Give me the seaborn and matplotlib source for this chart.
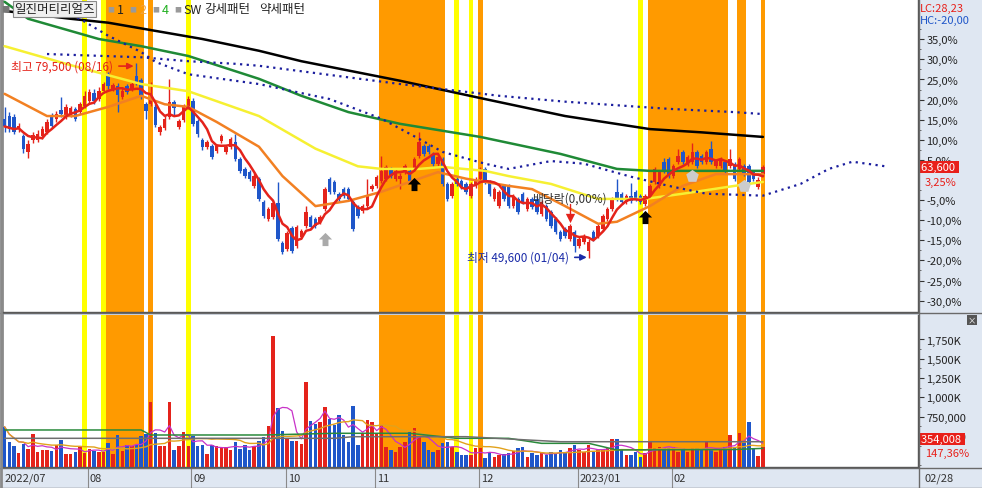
import numpy as np
import pandas as pd
import matplotlib
matplotlib.use("Agg")
import matplotlib.pyplot as plt
import matplotlib.transforms as mtransforms
from matplotlib.path import Path
from matplotlib.lines import Line2D
import seaborn as sns

sns.set_theme(style="white")
plt.rcParams["font.family"] = ["Noto Sans CJK KR", "DejaVu Sans"]
plt.rcParams["axes.unicode_minus"] = False

# ---------------- data ----------------
opens = [71000,71400,71200,69400,68300,65900,67800,67700,68300,69000,71400,70900,72400,71400,71500,72500,72000,72900,73700,75000,
         74000,75300,77800,75500,76000,74300,76000,75500,77600,76900,73200,73300,72800,68900,69600,71200,73500,69700,70800,72900,
         73700,70600,67800,66600,66800,66000,67500,65900,66600,67400,64800,63300,62800,60700,61800,58200,55600,55900,58000,52000,
         51000,54300,51500,52800,54600,55900,55600,55200,57200,61800,61300,59500,60200,60200,58200,57500,56900,57600,60200,60700,
         61500,61800,63300,61800,61800,62800,63000,63300,65300,66800,66800,65600,64100,64800,61000,59100,61800,61500,61000,59100,
         60700,61800,63300,61300,58700,57600,60700,60700,57600,58700,59500,57200,58700,58700,56400,57600,56700,55600,53600,54100,
         52600,53600,51500,52100,50700,53600,53000,54100,55600,57200,59800,59500,58200,59200,59800,59200,57900,59200,61300,60700,
         64400,64800,62200,64400,65900,64100,64400,65900,65300,64400,66300,63700,63700,64400,63700,64100,63300,63700,63700,62800,
         60500,62500]
highs = [72800,72000,71700,70300,68700,67800,69000,69200,69900,71000,71900,72100,74300,73200,73000,72800,73600,75200,75600,75500,
         75800,76600,78100,76500,76400,75700,76300,76700,79500,77300,73600,76600,73200,70000,71400,77000,73800,71000,73300,74500,
         74100,71000,68100,67700,67100,67100,68600,67000,68200,68700,65100,63600,63100,62600,62100,58500,57500,58400,61300,52300,
         53800,54600,54700,54100,57600,56200,55900,56200,60500,62100,61600,59800,60500,60500,58500,57800,57900,61700,61000,62400,
         65300,63900,63600,63300,62600,64000,63300,65100,68900,67100,67100,65900,65400,65100,61300,61300,62100,61800,61300,61300,
         62100,63600,63600,61600,60500,60100,61000,61000,59500,59000,59800,59000,59000,59000,58500,57900,57000,55900,53900,54400,
         54900,53900,52900,53300,52600,53900,54900,56400,57500,59000,61700,59800,59500,61200,60100,59500,59500,61000,63600,63100,
         65000,65100,64000,66300,66200,65400,67300,66200,65600,66200,67600,64800,65100,64700,66300,64400,65100,64000,64000,63100,
         62000,63900]
lows = [69000,68900,68600,69000,65800,65000,67300,67400,67900,68600,69600,70500,71300,71000,71300,70600,71700,72600,73400,73300,
        73700,75000,75600,75200,72000,74000,74800,75200,76200,74000,71000,72900,69700,68500,69300,70900,71500,69400,70500,72500,
        69900,68200,66200,66300,64800,65700,67200,65600,66300,64500,62700,61900,61400,60400,58400,55800,55300,55600,52200,50200,
        50700,50400,51200,52500,54300,54100,54300,54900,56900,59500,59500,58400,58900,58400,53800,55800,56600,57300,59900,60400,
        61200,61500,61900,61500,60200,62500,61200,63000,65000,65300,65600,63800,63800,60700,58400,58800,60700,60200,59500,58800,
        60400,61500,61000,59200,58400,57300,58400,57300,57300,56400,57900,56900,57200,56400,56100,55300,54300,53300,52300,52700,
        52300,50600,51200,51800,49600,52300,52700,53800,55300,56900,58400,57900,57900,58100,58400,57900,57600,58900,61000,60400,
        62700,61900,61900,64100,64100,63800,64100,63400,64100,64100,64100,63400,63400,62700,63400,61500,63000,62200,61000,61500,
        60200,62200]
closes = [69800,69400,69000,69900,66300,67100,68500,68700,69400,70500,69900,71700,71700,72800,72700,70900,73200,74400,75100,73700,
          75200,76300,76000,76100,74600,75300,75100,76300,76600,74400,72200,74200,70000,69700,71000,73500,72700,70600,72900,74000,
          70200,68600,66600,67400,65100,66800,68300,66700,67900,64800,63000,62200,61800,62200,58700,56100,57200,58000,52600,50600,
          53500,50700,54400,53800,56700,54400,54600,55900,60200,59800,59800,58700,59200,58700,54100,56100,57600,59200,60700,62100,
          63000,63600,62200,63000,62200,63700,61500,64800,67400,65600,65900,64100,65100,61000,58700,61000,61000,60500,59800,61000,
          61800,63300,61300,59500,60200,59800,58700,57600,59200,56700,58200,58700,57500,56700,58200,55600,54600,53600,52600,53000,
          54600,51500,52600,53000,52100,52600,54600,56100,57200,58700,58700,58200,59200,58400,58700,58200,59200,60700,63300,62800,
          63000,62200,63700,65300,64400,65100,65900,63700,64400,65900,64400,64500,64800,63000,64800,61800,64800,62500,61300,61800,
          61600,63600]
volumes = [620000,426000,374000,280000,396000,332000,526000,297000,319000,319000,310000,383000,448000,267000,267000,297000,367000,280000,332000,310000,
           297000,297000,409000,267000,513000,310000,383000,367000,383000,504000,526000,944000,539000,374000,374000,944000,319000,374000,552000,374000,
           504000,374000,383000,267000,383000,367000,354000,362000,319000,426000,332000,383000,315000,374000,439000,487000,633000,1800000,863000,569000,
           461000,440000,440000,400000,1200000,698000,655000,685000,880000,720000,642000,772000,513000,426000,892000,383000,535000,707000,685000,535000,
           642000,361000,319000,297000,361000,426000,556000,600000,491000,426000,319000,297000,319000,405000,426000,361000,297000,254000,254000,254000,
           340000,340000,211000,297000,232000,254000,262000,275000,305000,340000,361000,232000,275000,254000,297000,254000,288000,262000,319000,297000,
           340000,383000,319000,297000,383000,297000,319000,319000,340000,461000,461000,319000,254000,254000,297000,232000,275000,426000,340000,361000,
           340000,340000,361000,297000,340000,297000,340000,340000,319000,426000,319000,297000,340000,361000,513000,361000,535000,405000,685000,340000,
           240255,354008]

# long moving averages (candle index, value)
ma20_idx = [0, 9, 15, 22, 29, 34, 39, 45, 54, 59, 66, 73, 80, 88, 92, 98, 107, 112, 119, 126, 130, 137, 144, 151, 161]
ma20_val = [74800, 71400, 71400, 72800, 74500, 73200, 72800, 70500, 66700, 62200, 57600, 58400, 59800, 61800, 62800, 61800, 60700,
            60200, 57600, 54900, 55200, 57600, 60700, 62500, 62500]
ma60_idx = [0, 14, 29, 39, 54, 66, 75, 80, 88, 93, 102, 107, 116, 126, 136, 144, 155, 161]
ma60_val = [82100, 79200, 76300, 75200, 71400, 66400, 63700, 63300, 63300, 63600, 63000, 62200, 61000, 58700, 58700, 59500, 60700, 61300]
ma120_idx = [0, 5, 20, 29, 39, 54, 63, 73, 84, 101, 118, 130, 137, 161]
ma120_val = [88900, 86300, 83200, 82100, 80600, 77100, 74500, 72000, 70200, 68200, 65600, 63300, 63000, 63000]
ma240_idx = [0, 14, 22, 42, 54, 63, 84, 102, 119, 137, 148, 161]
ma240_val = [87500, 86300, 85700, 83200, 81400, 79800, 76800, 74000, 71400, 69400, 68900, 68200]
dotA_idx = [13, 15, 22, 29, 32, 39, 54, 69, 80, 88, 93, 102, 107, 116, 123, 133, 141, 149, 161, 169, 175, 180, 187]
dotA_val = [87500, 86700, 83700, 81200, 79700, 77800, 76300, 74000, 71000, 67900, 65900, 64100, 63300, 64500, 64100, 62100, 60700,
            59500, 59200, 61000, 63300, 64400, 63700]
dotB_idx = [9, 29, 39, 49, 54, 84, 105, 119, 141, 155, 161]
dotB_val = [80900, 80400, 79800, 79400, 79100, 76300, 74500, 73600, 72500, 72000, 71700]

vma60_idx = [0, 29, 31, 55, 70, 86, 96, 107, 114, 124, 130, 155, 161]
vma60_val = [578000, 578000, 513000, 513000, 535000, 535000, 470000, 470000, 405000, 405000, 319000, 325000, 340000]
vma120_idx = [0, 70, 74, 98, 118, 161]
vma120_val = [470000, 470000, 491000, 491000, 426000, 426000]

yellow_days = [17, 21, 39, 96, 99, 135]
orange_days = [22, 23, 24, 25, 26, 27, 28, 29, 31, 80, 81, 82, 83, 84, 85, 86, 87, 88, 89, 90, 91, 92, 93, 101,
               137, 138, 139, 140, 141, 142, 143, 144, 145, 146, 147, 148, 149, 150, 151, 152, 153, 156, 157, 161]

buy_idx, buy_price = [87, 136], [61000, 55900]
grey_idx, grey_price = [68], [52500]
silver_idx, silver_price = [146, 157], [62200, 60700]
exdiv_idx = 120
hi_idx, hi_price = 28, 79500
lo_idx, lo_price = 124, 49600

base_price = 61600
pct_ticks = [35, 30, 25, 20, 15, 10, 5, -5, -10, -15, -20, -25, -30]
vol_ticks = [500000, 750000, 1000000, 1250000, 1500000, 1750000]
vol_tick_labels = ["500,000", "750,000", "1,000K", "1,250K", "1,500K", "1,750K"]
month_idx = [18, 40, 60, 79, 101, 122, 142]
month_labels = ["08", "09", "10", "11", "12", "2023/01", "02"]

# ---------------- figure ----------------
W, H = 982, 489
fig = plt.figure(figsize=(W / 100, H / 100), dpi=100)
fig.patch.set_facecolor("#dfe7f2")

def fx(px):
    return px / W

def fy(py):
    return 1 - py / H

ax = fig.add_axes([fx(2), fy(313), fx(918) - fx(2), fy(1) - fy(313)])
axv = fig.add_axes([fx(2), fy(468), fx(918) - fx(2), fy(316) - fy(468)], sharex=ax)
for a in (ax, axv):
    a.set_facecolor("white")
    a.grid(False)

RED = "#e4231b"
BLUE = "#1f56c9"
YEL = "#ffff00"
ORG = "#ff9a00"

n = len(closes)
idx = np.arange(n)
o = np.array(opens); h = np.array(highs); l = np.array(lows); c = np.array(closes)
v = np.array(volumes)
up = c >= o
col = np.where(up, RED, BLUE)

# signal bands
for a in (ax, axv):
    for d in yellow_days:
        a.axvspan(d - 0.5, d + 0.5, color=YEL, lw=0, zorder=0)
    for d in orange_days:
        a.axvspan(d - 0.5, d + 0.5, color=ORG, lw=0, zorder=0)

# candles
ax.vlines(idx, l, h, colors=col, lw=1, zorder=3)
body = np.maximum(np.abs(c - o), 150)
ax.bar(idx, body, bottom=np.minimum(o, c), width=0.74, color=col, lw=0, zorder=3)

# moving averages
ma5 = pd.Series(c).rolling(5, min_periods=1).mean()
sns.lineplot(x=ma240_idx, y=ma240_val, ax=ax, color="black", linewidth=1.8, zorder=4, estimator=None)
sns.lineplot(x=ma120_idx, y=ma120_val, ax=ax, color="#1f8a36", linewidth=1.8, zorder=4, estimator=None)
sns.lineplot(x=ma60_idx, y=ma60_val, ax=ax, color="#f6f032", linewidth=1.8, zorder=4, estimator=None)
sns.lineplot(x=ma20_idx, y=ma20_val, ax=ax, color="#f28022", linewidth=1.8, zorder=4, estimator=None)
sns.lineplot(x=idx, y=ma5.values, ax=ax, color=RED, linewidth=1.8, zorder=5, estimator=None)
sns.lineplot(x=dotA_idx, y=dotA_val, ax=ax, color="#1b1e9e", linewidth=1.6, linestyle=(0, (1, 2)), zorder=4, estimator=None)
sns.lineplot(x=dotB_idx, y=dotB_val, ax=ax, color="#1b1e9e", linewidth=1.6, linestyle=(0, (1, 2)), zorder=4, estimator=None)

# markers
arrow = Path([(0, 1), (1, 0), (0.45, 0), (0.45, -1), (-0.45, -1), (-0.45, 0), (-1, 0), (0, 1)],
             [Path.MOVETO] + [Path.LINETO] * 6 + [Path.CLOSEPOLY])
ax.scatter(buy_idx, buy_price, marker=arrow, s=90, color="black", zorder=6, lw=0)
ax.scatter(grey_idx, grey_price, marker=arrow, s=90, color="#aaaaaa", zorder=6, lw=0)
ax.scatter(silver_idx, silver_price, marker="p", s=90, color="#cccccc", zorder=6, lw=0)

# ex-dividend marker
exd_top = base_price * (1 - 0.06)
exd_bot = base_price * (1 - 0.095)
ax.plot([exdiv_idx, exdiv_idx], [exd_top, exd_bot], color=RED, lw=1, zorder=6)
ax.scatter([exdiv_idx], [exd_bot], marker="v", s=45, color=RED, zorder=6, lw=0)
ax.text(exdiv_idx, base_price * (1 - 0.045), "배당락(0,00%)", ha="center", va="center", fontsize=8.5,
        color="#333333", zorder=7)

# high / low annotations
ax.annotate("최고 79,500 (08/16)", xy=(hi_idx - 0.6, hi_price - 450), xytext=(-15, 0), textcoords="offset points",
            ha="right", va="center", fontsize=8.5, color=RED, zorder=7,
            arrowprops=dict(arrowstyle="-|>", color=RED, lw=1.2, shrinkA=2, shrinkB=0, mutation_scale=9))
ax.annotate("최저 49,600 (01/04)", xy=(lo_idx - 0.4, lo_price + 150), xytext=(-13, 0), textcoords="offset points",
            ha="right", va="center", fontsize=8.5, color="#1a2ba8", zorder=7,
            arrowprops=dict(arrowstyle="-|>", color="#1a2ba8", lw=1.2, shrinkA=2, shrinkB=0, mutation_scale=9))

# volume
axv.bar(idx, v, width=0.74, color=col, lw=0, zorder=3)
vma5 = pd.Series(v).rolling(5, min_periods=1).mean()
vma20 = pd.Series(v).rolling(20, min_periods=1).mean()
sns.lineplot(x=idx, y=vma5.values, ax=axv, color="#c832c8", linewidth=0.9, zorder=4, estimator=None)
sns.lineplot(x=idx, y=vma20.values, ax=axv, color="#e2a21c", linewidth=1.0, zorder=4, estimator=None)
sns.lineplot(x=vma60_idx, y=vma60_val, ax=axv, color="#2a8a3c", linewidth=1.1, zorder=4, estimator=None)
sns.lineplot(x=vma120_idx, y=vma120_val, ax=axv, color="#6e6e6e", linewidth=1.1, zorder=4, estimator=None)

# ---------------- axes / scales ----------------
xl = ((2 - 4.6) / 4.71, (918 - 4.6) / 4.71)
ax.set_xlim(*xl)
ax.set_ylim(base_price - 132 * 153.2, base_price + 180 * 153.2)
axv.set_ylim((475.6 - 468) * 12953, (475.6 - 316) * 12953)

for a in (ax, axv):
    a.yaxis.tick_right()
    a.tick_params(axis="y", which="major", length=4, width=0.8, color="#333333", labelsize=8,
                  labelcolor="#222222", pad=2, right=True, left=False, direction="out")
    a.tick_params(axis="y", which="minor", length=2, width=0.6, color="#555555", right=True, left=False)
    a.tick_params(axis="x", bottom=False, labelbottom=False, top=False)
    a.set_xlabel(""); a.set_ylabel("")
    a.spines["top"].set_visible(False)
    a.spines["left"].set_color("#8a8a8a"); a.spines["left"].set_linewidth(2)
    a.spines["right"].set_color("#555555"); a.spines["right"].set_linewidth(1)
    a.spines["bottom"].set_color("#555555"); a.spines["bottom"].set_linewidth(1)

ax.set_yticks([base_price * (1 + p / 100) for p in pct_ticks])
ax.set_yticklabels([f"{p},0%" for p in pct_ticks])
ax.set_yticks([base_price * (1 + (p - 2.5) / 100) for p in range(40, -30, -5)], minor=True)
axv.set_yticks(vol_ticks)
axv.set_yticklabels(vol_tick_labels)
axv.set_yticks([t - 125000 for t in vol_ticks] + [125000], minor=True)

# value boxes on right scale
ax.annotate("63,600 ", xy=(1, c[-1]), xycoords=("axes fraction", "data"), xytext=(2.5, 0),
            textcoords="offset points", ha="left", va="center", fontsize=8, color="white",
            bbox=dict(boxstyle="square,pad=0.12", fc="#e8201a", ec="none"), annotation_clip=False)
ax.annotate("3,25%", xy=(1, c[-1]), xycoords=("axes fraction", "data"), xytext=(5, -11),
            textcoords="offset points", ha="left", va="center", fontsize=8, color="#e8201a", annotation_clip=False)
axv.annotate("354,008 ", xy=(1, v[-1]), xycoords=("axes fraction", "data"), xytext=(2.5, 6),
             textcoords="offset points", ha="left", va="center", fontsize=8, color="white",
             bbox=dict(boxstyle="square,pad=0.12", fc="#e8201a", ec="none"), annotation_clip=False)
axv.annotate("147,36%", xy=(1, v[-1]), xycoords=("axes fraction", "data"), xytext=(5, -4),
             textcoords="offset points", ha="left", va="center", fontsize=8, color="#e8201a", annotation_clip=False)

fig.text(fx(920), fy(9), "LC:28,23", fontsize=8, color="#e8201a", ha="left", va="center")
fig.text(fx(920), fy(21), "HC:-20,00", fontsize=8, color="#1f56c9", ha="left", va="center")
fig.text(fx(972), fy(321), "×", fontsize=6, color="white", ha="center", va="center",
         bbox=dict(boxstyle="square,pad=0.1", fc="#555555", ec="none"))

# date strip
blend = mtransforms.blended_transform_factory(axv.transData, axv.transAxes)
strip = 21 / 152
for mi, lab in zip(month_idx, month_labels):
    axv.plot([mi - 0.35, mi - 0.35], [0, -strip], transform=blend, color="#8a8a8a", lw=0.8, clip_on=False)
    axv.annotate(lab, xy=(mi - 0.35, 0), xycoords=blend, xytext=(1.5, -7.6), textcoords="offset points",
                 ha="left", va="center", fontsize=8, color="#333333", annotation_clip=False)
axv.annotate("2022/07", xy=(xl[0], 0), xycoords=blend, xytext=(1.5, -7.6), textcoords="offset points",
             ha="left", va="center", fontsize=8, color="#333333", annotation_clip=False)
axv.annotate("02/28", xy=(1, 0), xycoords="axes fraction", xytext=(5, -7.6), textcoords="offset points",
             ha="left", va="center", fontsize=8, color="#333333", annotation_clip=False)

# frame lines
for y in (313.5, 468.5, 488.5):
    fig.add_artist(Line2D([0, 1], [fy(y), fy(y)], color="#6a6a6a", lw=1))
fig.add_artist(Line2D([fx(918.5), fx(918.5)], [0, 1], color="#6a6a6a", lw=1))
fig.add_artist(Line2D([fx(1), fx(1)], [0, 1], color="#8a8a8a", lw=2))

# legend header
fig.text(fx(5), fy(10), "■", fontsize=6, color="#777777", ha="center", va="center")
fig.text(fx(14), fy(10), "일진머티리얼즈", fontsize=9, color="#222222", ha="left", va="center",
         bbox=dict(boxstyle="square,pad=0.12", fc="#efefef", ec="#8a8a8a", lw=0.8))
items = [(107, "■", "#9a9a9a"), (117, "1", "#222222"), (129, "■", "#9a9a9a"), (139, "2", "#f3a23a"),
         (152, "■", "#9a9a9a"), (162, "4", "#21b021"), (174, "■", "#9a9a9a"), (183, "SW", "#222222"),
         (204, "강세패턴", "#222222"), (259, "약세패턴", "#222222")]
for px, t, cc in items:
    fs = 5 if t == "■" else 9
    fig.text(fx(px), fy(10), t, fontsize=fs, color=cc, ha="left", va="center")

fig.savefig("out.png", dpi=100, facecolor=fig.get_facecolor())
